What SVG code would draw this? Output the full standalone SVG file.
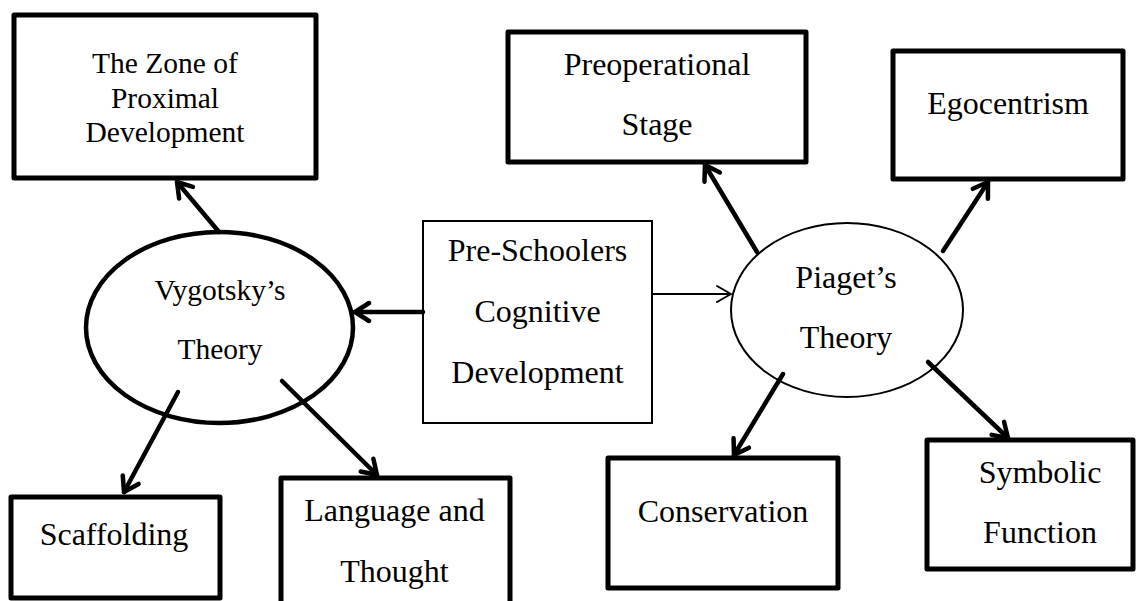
<svg xmlns="http://www.w3.org/2000/svg" width="1146" height="601" viewBox="0 0 1146 601">
<style>
.box{fill:#fff;stroke:#000;stroke-width:5;stroke-linejoin:round}
.thin{fill:#fff;stroke:#000;stroke-width:2}
.t{font-family:"Liberation Serif","Times New Roman",serif;font-size:32px;fill:#000;text-anchor:middle}
.s{font-size:29.5px}
.c{fill:none;stroke:#000;stroke-width:4.5;stroke-linecap:round}
.c2{fill:none;stroke:#000;stroke-width:2}
</style>
<defs>
<marker id="ah" markerUnits="userSpaceOnUse" markerWidth="24" markerHeight="24" viewBox="0 0 24 24" refX="20" refY="12" orient="auto">
<path d="M6,3 L20,12 L6,21" fill="none" stroke="#000" stroke-width="4.5" stroke-linecap="round" stroke-linejoin="round"/>
</marker>
<marker id="ah2" markerUnits="userSpaceOnUse" markerWidth="24" markerHeight="24" viewBox="0 0 24 24" refX="20" refY="12" orient="auto">
<path d="M6,4 L20,12 L6,20" fill="none" stroke="#000" stroke-width="2" stroke-linecap="round" stroke-linejoin="round"/>
</marker>
</defs>
<rect width="1146" height="601" fill="#fff"/>
<g id="zone"><rect class="box" x="14" y="15" width="302" height="163"/>
<text class="t s" x="165" y="73">The Zone of</text><text class="t s" x="165" y="108">Proximal</text><text class="t s" x="165" y="142">Development</text></g>
<g id="vygotsky"><ellipse cx="219.5" cy="327.5" rx="133.5" ry="95.5" fill="#fff" stroke="#000" stroke-width="4.5"/>
<text class="t s" x="220" y="300">Vygotsky’s</text><text class="t s" x="220" y="359">Theory</text></g>
<g id="preschool"><rect class="thin" x="423" y="221" width="229" height="202"/>
<text class="t" x="537.5" y="261">Pre-Schoolers</text><text class="t" x="537.5" y="322">Cognitive</text><text class="t" x="537.5" y="383">Development</text></g>
<g id="piaget"><ellipse cx="847" cy="310" rx="116" ry="87" fill="#fff" stroke="#000" stroke-width="2"/>
<text class="t" x="846" y="288">Piaget’s</text><text class="t" x="846" y="348">Theory</text></g>
<g id="preop"><rect class="box" x="508" y="32" width="298" height="130"/>
<text class="t" x="657" y="75">Preoperational</text><text class="t" x="657" y="135">Stage</text></g>
<g id="ego"><rect class="box" x="893" y="51" width="230" height="128"/>
<text class="t" x="1008" y="114">Egocentrism</text></g>
<g id="scaffolding"><rect class="box" x="11" y="497" width="209" height="101"/>
<text class="t" x="114" y="545">Scaffolding</text></g>
<g id="language"><rect class="box" x="281" y="478" width="229" height="140"/>
<text class="t" x="394.5" y="521">Language and</text><text class="t" x="394.5" y="582">Thought</text></g>
<g id="conservation"><rect class="box" x="608" y="458" width="230" height="130"/>
<text class="t" x="723" y="522">Conservation</text></g>
<g id="symbolic"><rect class="box" x="927" y="440" width="206" height="129"/>
<text class="t" x="1040" y="483">Symbolic</text><text class="t" x="1040" y="543">Function</text></g>
<g id="connectors">
<line class="c" x1="219" y1="232" x2="177" y2="182" marker-end="url(#ah)"/>
<line class="c" x1="178" y1="392" x2="124" y2="492" marker-end="url(#ah)"/>
<line class="c" x1="282" y1="381" x2="377" y2="475" marker-end="url(#ah)"/>
<line class="c" x1="423" y1="312" x2="355" y2="312" marker-end="url(#ah)"/>
<line class="c2" x1="652" y1="294" x2="731" y2="294" marker-end="url(#ah2)"/>
<line class="c" x1="757" y1="252" x2="705" y2="165" marker-end="url(#ah)"/>
<line class="c" x1="943" y1="251" x2="988" y2="182" marker-end="url(#ah)"/>
<line class="c" x1="783" y1="374" x2="734" y2="455" marker-end="url(#ah)"/>
<line class="c" x1="928" y1="362" x2="1008" y2="438" marker-end="url(#ah)"/>
</g>
</svg>
